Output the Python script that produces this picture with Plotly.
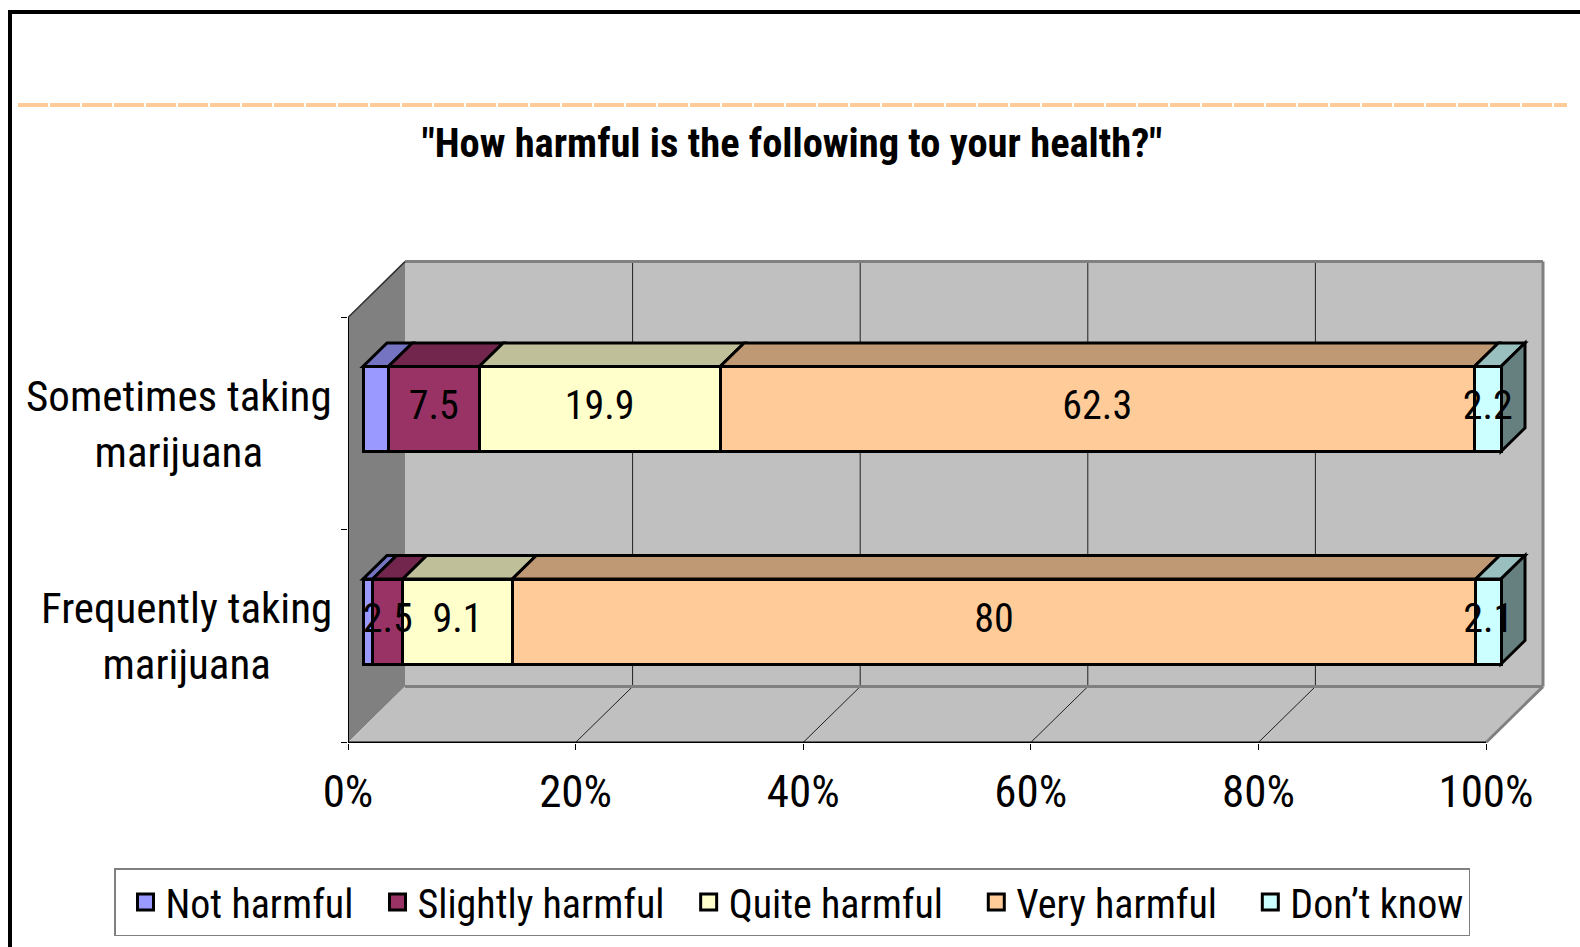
"""Excel-style 3D stacked 100% bar chart: perceived harm of marijuana use."""

import plotly.graph_objects as go

# ---- data -----------------------------------------------------------------
category_pos = [0, 1]
category_labels = ["Frequently taking<br>marijuana", "Sometimes taking<br>marijuana"]

series_names = ["Not harmful", "Slightly harmful", "Quite harmful", "Very harmful", "Don’t know"]
not_harmful = [0.8, 2.1]
slightly_harmful = [2.5, 7.5]
quite_harmful = [9.1, 19.9]
very_harmful = [80, 62.3]
dont_know = [2.1, 2.2]
label_shown = [False, True, True, True, True]

x_ticks = [0, 20, 40, 60, 80, 100]
y_bounds = [-0.5, 0.5, 1.5]

title_text = '"How harmful is the following to your health?"'

# ---- styling --------------------------------------------------------------
front_colors = ["#9999FF", "#993366", "#FFFFCC", "#FFCC99", "#CCFFFF"]
top_colors = ["#7474C2", "#73264D", "#BFBF99", "#BF9973", "#99BFBF"]
side_color = "#668080"
FONT = "Roboto Condensed, Liberation Sans Narrow, Arial Narrow, sans-serif"
legend_pad = [1, 1, 2, 2, 0]   # non-breaking spaces after each legend entry

W, H = 1580, 947
SX = 11.38        # px per percent
SY = 212.5        # px per category step
X0_PX = 363       # bar front plane, 0 %
Y0_PX = 621.5     # bar front plane, first category
DEPTH = 57        # wall depth in px
BAR_Z0, BAR_Z1 = 15, 39
DY_RATIO = 0.98
BAR_W = 0.4
PLOT_L, PLOT_R, PLOT_T, PLOT_B = 348, 1570, 250, 743


def proj(x, y, z):
    # point at depth z (px behind the front plane) in bar-plane data coords
    return x + (z - BAR_Z0) / SX, y + (z - BAR_Z0) * DY_RATIO / SY


def path(points):
    return "M " + " L ".join(f"{x:.4f},{y:.4f}" for x, y in points) + " Z"


def seg(p, q, color, width):
    return dict(type="line", xref="x", yref="y", x0=p[0], y0=p[1], x1=q[0], y1=q[1],
                line=dict(color=color, width=width), layer="below")


series = [not_harmful, slightly_harmful, quite_harmful, very_harmful, dont_know]
front_dx = BAR_Z0 / SX
front_dy = BAR_Z0 * DY_RATIO / SY

fig = go.Figure()
for name, vals, color in zip(series_names, series, front_colors):
    fig.add_trace(go.Bar(
        y=category_pos,
        x=vals,
        name=name,
        legendgroup=name,
        showlegend=False,
        orientation="h",
        width=BAR_W,
        marker=dict(color=color, line=dict(color="black", width=3)),
        customdata=vals,
        hovertemplate="%{customdata}<extra>" + name + "</extra>",
    ))

# legend entries (bigger swatches than the bar default)
for name, color, pad in zip(series_names, front_colors, legend_pad):
    fig.add_trace(go.Scatter(
        x=[None], y=[None], mode="markers", name=name + "\u00a0" * pad,
        legendgroup=name,
        marker=dict(symbol="square", size=16, color=color, line=dict(color="black", width=3)),
    ))

# ---- 3D box: walls, floor, gridlines --------------------------------------
shapes = []
Y_LO, Y_HI = y_bounds[0], y_bounds[-1]
shapes.append(dict(type="path", xref="x", yref="y", layer="below", fillcolor="#808080",
                   line=dict(width=0),
                   path=path([proj(0, Y_LO, 0), proj(0, Y_HI, 0),
                              proj(0, Y_HI, DEPTH), proj(0, Y_LO, DEPTH)])))
shapes.append(dict(type="path", xref="x", yref="y", layer="below", fillcolor="#C0C0C0",
                   line=dict(width=0),
                   path=path([proj(0, Y_LO, DEPTH), proj(0, Y_HI, DEPTH),
                              proj(100, Y_HI, DEPTH), proj(100, Y_LO, DEPTH)])))
shapes.append(dict(type="path", xref="x", yref="y", layer="below", fillcolor="#C0C0C0",
                   line=dict(width=0),
                   path=path([proj(0, Y_LO, 0), proj(100, Y_LO, 0),
                              proj(100, Y_LO, DEPTH), proj(0, Y_LO, DEPTH)])))
for v in x_ticks[1:-1]:
    shapes.append(seg(proj(v, Y_LO, DEPTH), proj(v, Y_HI, DEPTH), "#202020", 1))
    shapes.append(seg(proj(v, Y_LO, 0), proj(v, Y_LO, DEPTH), "#202020", 1))
shapes.append(seg(proj(0, Y_HI, DEPTH), proj(100, Y_HI, DEPTH), "#808080", 3))
shapes.append(seg(proj(100, Y_HI, DEPTH), proj(100, Y_LO, DEPTH), "#808080", 3))
shapes.append(seg(proj(0, Y_LO, DEPTH), proj(100, Y_LO, DEPTH), "#808080", 3))
shapes.append(seg(proj(100, Y_LO, 0), proj(100, Y_LO, DEPTH), "#808080", 3))
shapes.append(seg(proj(0, Y_HI, 0), proj(0, Y_HI, DEPTH), "#303030", 1.5))
shapes.append(seg(proj(0, Y_LO, 0), proj(100, Y_LO, 0), "black", 2))
shapes.append(seg(proj(0, Y_LO, 0), proj(0, Y_HI, 0), "black", 2))

# ---- 3D faces of the stacked bars and their labels ------------------------
lab_x, lab_y, lab_t = [], [], []
for i, pos in enumerate(category_pos):
    total = sum(s[i] for s in series)
    yt, yb = pos + BAR_W / 2, pos - BAR_W / 2
    cum = 0
    for j, s in enumerate(series):
        x0 = cum / total * 100
        cum += s[i]
        x1 = cum / total * 100
        shapes.append(dict(type="path", xref="x", yref="y", layer="below",
                           fillcolor=top_colors[j], line=dict(color="black", width=3),
                           path=path([proj(x0, yt, BAR_Z0), proj(x1, yt, BAR_Z0),
                                      proj(x1, yt, BAR_Z1), proj(x0, yt, BAR_Z1)])))
        if label_shown[j]:
            lab_x.append((x0 + x1) / 2)
            lab_y.append(pos)
            lab_t.append(f"{s[i]:g}")
    shapes.append(dict(type="path", xref="x", yref="y", layer="below",
                       fillcolor=side_color, line=dict(color="black", width=3),
                       path=path([proj(100, yb, BAR_Z0), proj(100, yt, BAR_Z0),
                                  proj(100, yt, BAR_Z1), proj(100, yb, BAR_Z1)])))

fig.add_trace(go.Scatter(
    x=lab_x, y=lab_y, text=lab_t, mode="text", showlegend=False, hoverinfo="skip",
    textposition="middle center", cliponaxis=False,
    textfont=dict(family=FONT, size=40, color="black"),
))

# ---- frame and decorative rule --------------------------------------------
shapes.append(dict(type="line", xref="paper", yref="paper", x0=8 / W, x1=1, y0=1 - 12 / H,
                   y1=1 - 12 / H, line=dict(color="black", width=4)))
shapes.append(dict(type="line", xref="paper", yref="paper", x0=10 / W, x1=10 / W, y0=0,
                   y1=1 - 10 / H, line=dict(color="black", width=4)))
shapes.append(dict(type="line", xref="paper", yref="paper", x0=18 / W, x1=1567 / W,
                   y0=1 - 105 / H, y1=1 - 105 / H,
                   line=dict(color="#FFCC99", width=4, dash="30px,2px")))

# category labels, centred lines, right edge just left of the box
annotations = []
for pos, lab in zip(category_pos, category_labels):
    annotations.append(dict(text=lab, xref="paper", yref="y", x=334 / W, y=pos - front_dy,
                            xanchor="right", yanchor="middle", align="center", showarrow=False,
                            font=dict(family=FONT, size=43, color="black")))

x_range = [(PLOT_L - X0_PX) / SX, (PLOT_R - X0_PX) / SX]
y_range = [(Y0_PX - PLOT_B) / SY, (Y0_PX - PLOT_T) / SY]

fig.update_layout(
    width=W,
    height=H,
    autosize=False,
    margin=dict(l=0, r=0, t=0, b=0, autoexpand=False),
    paper_bgcolor="white",
    plot_bgcolor="white",
    barmode="stack",
    barnorm="percent",
    font=dict(family=FONT, color="black"),
    title=dict(text=f"<b>{title_text}</b>", x=792 / W, xanchor="center",
               y=1 - 143 / H, yanchor="middle",
               font=dict(family=FONT, size=40.5, color="black")),
    # ticks sit on the front edge of the floor / left wall
    xaxis=dict(domain=[PLOT_L / W, PLOT_R / W], range=x_range, fixedrange=True,
               tickvals=[v - front_dx for v in x_ticks], ticktext=[f"{v}%" for v in x_ticks],
               ticks="outside", ticklen=6, tickcolor="black", tickwidth=1,
               ticklabelstandoff=3,
               showgrid=False, zeroline=False, showline=False,
               tickfont=dict(family=FONT, size=45, color="black")),
    yaxis=dict(domain=[1 - PLOT_B / H, 1 - PLOT_T / H], range=y_range, fixedrange=True,
               tickvals=[v - front_dy for v in y_bounds], ticks="outside", ticklen=6,
               tickcolor="black", tickwidth=1, showticklabels=False,
               showgrid=False, zeroline=False, showline=False),
    legend=dict(orientation="h", x=114 / W, y=1 - 868 / H, xanchor="left", yanchor="top",
                bordercolor="#808080", borderwidth=1.5, bgcolor="white", indentation=10,
                font=dict(family=FONT, size=40, color="black"), traceorder="normal"),
    shapes=shapes,
    annotations=annotations,
)

fig.write_html("out.html", config={"displayModeBar": False},
               post_script="document.body.style.margin='0';")
